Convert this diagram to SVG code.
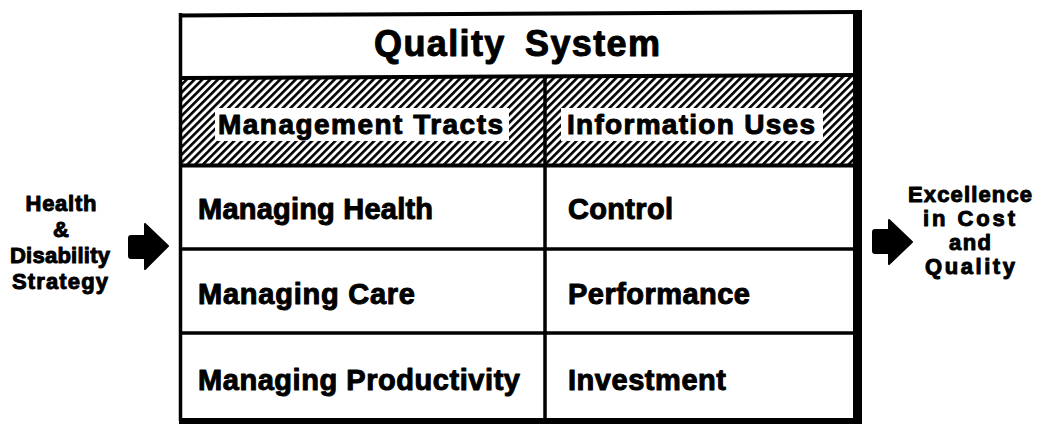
<svg xmlns="http://www.w3.org/2000/svg" width="1039" height="424" viewBox="0 0 1039 424">
  <style>
    .t { font-family: "Liberation Sans", Arial, Helvetica, sans-serif; font-weight: bold; fill: #000; stroke: #000; stroke-width: 1; stroke-linejoin: round; }
    .hdr { font-size: 36px; word-spacing: 8px; }
    .sub { font-size: 28px; }
    .cell { font-size: 29px; }
    .lbl { font-size: 22px; text-anchor: middle; }
    .ln { stroke: #000; fill: none; }
    .arrow { fill: #000; stroke: #000; stroke-width: 2; stroke-linejoin: round; }
  </style>
  <defs>
    <pattern id="hatch" patternUnits="userSpaceOnUse" width="5.5" height="5.5" patternTransform="rotate(45)">
      <rect x="0" y="0" width="2.6" height="5.5" fill="#000"/>
    </pattern>
  </defs>
  <rect x="0" y="0" width="1039" height="424" fill="#fff"/>

  <g id="quality-system">
    <rect x="180" y="14" width="675" height="406" fill="#fff"/>
    <text class="t hdr" x="374" y="56" textLength="286" lengthAdjust="spacing">Quality System</text>
  </g>

  <g id="column-headers">
    <rect x="180" y="76" width="675" height="90" fill="url(#hatch)"/>
    <rect x="215" y="108" width="294" height="33" fill="#fff"/>
    <rect x="561" y="108" width="262" height="33" fill="#fff"/>
    <text class="t sub" x="218" y="134" textLength="285" lengthAdjust="spacing">Management Tracts</text>
    <text class="t sub" x="567" y="134" textLength="248" lengthAdjust="spacing">Information Uses</text>
  </g>

  <g id="grid">
    <line class="ln" x1="180" y1="15.5" x2="858" y2="12" stroke-width="4"/>
    <line class="ln" x1="180" y1="78" x2="858" y2="75" stroke-width="4"/>
    <line class="ln" x1="180" y1="165.5" x2="858" y2="165.5" stroke-width="4"/>
    <line class="ln" x1="180" y1="249" x2="858" y2="249" stroke-width="3.5"/>
    <line class="ln" x1="180" y1="333" x2="858" y2="333" stroke-width="3.5"/>
    <line class="ln" x1="545" y1="76" x2="545" y2="420" stroke-width="3.5"/>
    <line class="ln" x1="180.5" y1="13" x2="180.5" y2="421" stroke-width="3.5"/>
    <rect x="853" y="10" width="9" height="414" fill="#000"/>
    <rect x="179" y="418" width="683" height="6" fill="#000"/>
  </g>

  <g id="managing-health"><text class="t cell" x="198" y="219" textLength="235" lengthAdjust="spacing">Managing Health</text></g>
  <g id="control"><text class="t cell" x="568" y="219" textLength="105" lengthAdjust="spacing">Control</text></g>
  <g id="managing-care"><text class="t cell" x="198" y="304" textLength="217" lengthAdjust="spacing">Managing Care</text></g>
  <g id="performance"><text class="t cell" x="568" y="304" textLength="182" lengthAdjust="spacing">Performance</text></g>
  <g id="managing-productivity"><text class="t cell" x="198" y="390" textLength="322" lengthAdjust="spacing">Managing Productivity</text></g>
  <g id="investment"><text class="t cell" x="568" y="390" textLength="158" lengthAdjust="spacing">Investment</text></g>

  <g id="input-label">
    <text class="t lbl" x="61" y="211" textLength="71" lengthAdjust="spacing">Health</text>
    <text class="t lbl" x="61" y="237">&amp;</text>
    <text class="t lbl" x="60" y="263" textLength="100" lengthAdjust="spacing">Disability</text>
    <text class="t lbl" x="60" y="289" textLength="96" lengthAdjust="spacing">Strategy</text>
  </g>

  <g id="output-label">
    <text class="t lbl" x="970" y="202" textLength="124" lengthAdjust="spacing">Excellence</text>
    <text class="t lbl" x="969" y="226" textLength="92" lengthAdjust="spacing">in Cost</text>
    <text class="t lbl" x="970" y="250" textLength="42" lengthAdjust="spacing">and</text>
    <text class="t lbl" x="970" y="274" textLength="90" lengthAdjust="spacing">Quality</text>
  </g>

  <g id="connectors">
    <path class="arrow" d="M131,236 L145,236 L145,224 L168,246 L145,269 L145,258 L131,258 Q129,258 129,256 L129,238 Q129,236 131,236 Z"/>
    <path class="arrow" d="M875,230 L889,230 L889,220 L912,242 L889,264 L889,253 L875,253 Q873,253 873,251 L873,232 Q873,230 875,230 Z"/>
  </g>
</svg>
